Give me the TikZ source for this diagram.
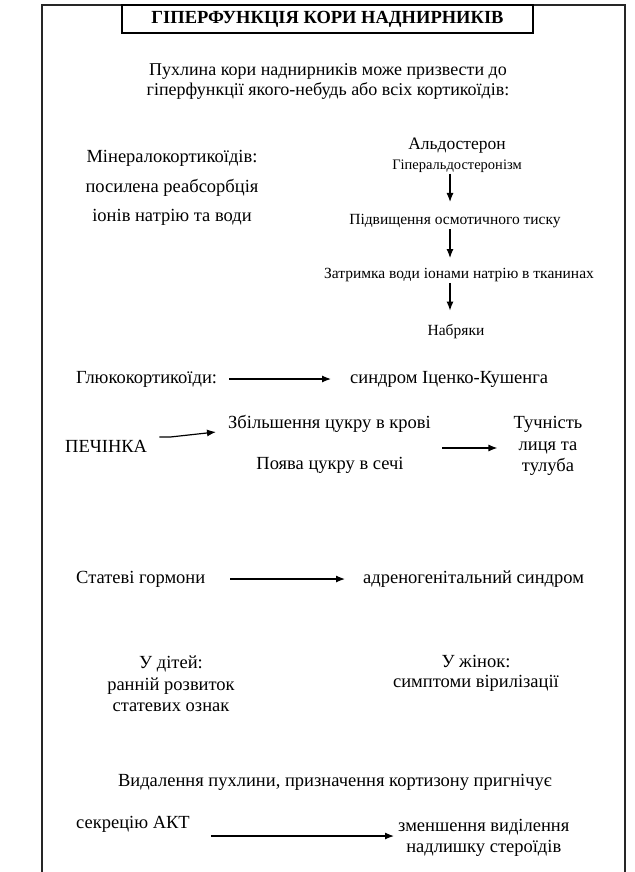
\documentclass[tikz,border=0pt]{standalone}
\usepackage{fontspec}
\setmainfont{Liberation Serif}
\usetikzlibrary{arrows.meta,positioning,calc}
\tikzset{
  basic/.style  = {font=\fontsize{18.5}{21.5}\selectfont, align=center, inner sep=1pt},
  small/.style  = {basic, font=\fontsize{15.5}{18}\selectfont},
  spread/.style = {basic, font=\fontsize{18.5}{29.5}\selectfont},
  head/.style   = {draw, line width=1.2pt, font=\bfseries\fontsize{18.5}{20}\selectfont,
                   minimum width=411pt, minimum height=28pt},
  arr/.style    = {-{Latex[length=9pt,width=7pt]}, line width=1.2pt},
  frame/.style  = {line width=1.6pt, black!85}
}

\begin{document}
\begin{tikzpicture}[x=1pt,y=-1pt]
\useasboundingbox (0,0) rectangle (634,872);
% outer frame, open at the bottom
\draw [frame] (42,885) -- (42,5) -- (625,5) -- (625,885);
\node [head] (title) at (327.5,19) {ГІПЕРФУНКЦІЯ КОРИ НАДНИРНИКІВ};
\node [basic, font=\fontsize{18}{20}\selectfont] (intro) at (328,81) {Пухлина кори наднирників може призвести до\\ гіперфункції якого-небудь або всіх кортикоїдів:};
% mineralocorticoids
\node [spread] (mineral) at (172,188) {Мінералокортикоїдів:\\ посилена реабсорбція\\ іонів натрію та води};
\node [basic, font=\fontsize{17.5}{20}\selectfont] (aldo) at (457,146) {Альдостерон};
\node [small, font=\fontsize{14.5}{17}\selectfont] (hyper) at (457,166) {Гіперальдостеронізм};
\node [small] (osm) at (455,221) {Підвищення осмотичного тиску};
\node [small] (water) at (459,275) {Затримка води іонами натрію в тканинах};
\node [small] (edema) at (456,332) {Набряки};
% glucocorticoids
\node [basic, anchor=west] (gluco) at (75,379) {Глюкокортикоїди:};
\node [basic, anchor=west] (cushing) at (349,379) {синдром Іценко-Кушенга};
\node [basic, anchor=west] (liver) at (64,446) {ПЕЧІНКА};
\node [basic, anchor=west] (blood) at (227,424) {Збільшення цукру в крові};
\node [basic] (urine) at (330,465) {Поява цукру в сечі};
\node [basic] (obese) at (548,446) {Тучність\\ лиця та\\ тулуба};
% sex hormones
\node [basic, anchor=west] (sex) at (75,579) {Статеві гормони};
\node [basic, anchor=west] (adreno) at (362,579) {адреногенітальний синдром};
\node [basic] (kids) at (171,684) {У дітей:\\ ранній розвиток\\ статевих ознак};
\node [basic, font=\fontsize{18.5}{20}\selectfont] (women) at (476,673) {У жінок:\\ симптоми вірилізації};
% treatment
\node [basic] (removal) at (335,782) {Видалення пухлини, призначення кортизону пригнічує};
\node [basic, anchor=west] (acth) at (75,824) {секрецію АКТ};
\node [basic, anchor=west] (reduce) at (397,838) {зменшення виділення\\ надлишку стероїдів};
% arrows of the aldosterone chain
\coordinate (axis) at (450,0);
\draw [arr] (axis |- hyper.south) -- ([yshift=11pt]axis |- osm.north);
\draw [arr] (axis |- osm.south) -- ([yshift=9pt]axis |- water.north);
\draw [arr] (axis |- water.south) -- ([yshift=13pt]axis |- edema.north);
% horizontal arrows
\draw [arr] ([xshift=11pt]gluco.east) -- ([xshift=-18pt]cushing.west);
\draw [arr] ([shift={(11pt,9pt)}]liver.east) -- ++(11,0) -- ([shift={(-11pt,-8pt)}]blood.west);
\draw [arr] ($(blood.east |- obese.west)+(10,2)$) -- ([shift={(-15pt,-2pt)}]obese.west);
\draw [arr] ([xshift=24pt]sex.east) -- ([xshift=-17pt]adreno.west);
\draw [arr] ($(acth.east)+(20,12)$) -- ($(reduce.west)+(-3,-2)$);
\end{tikzpicture}
\end{document}
